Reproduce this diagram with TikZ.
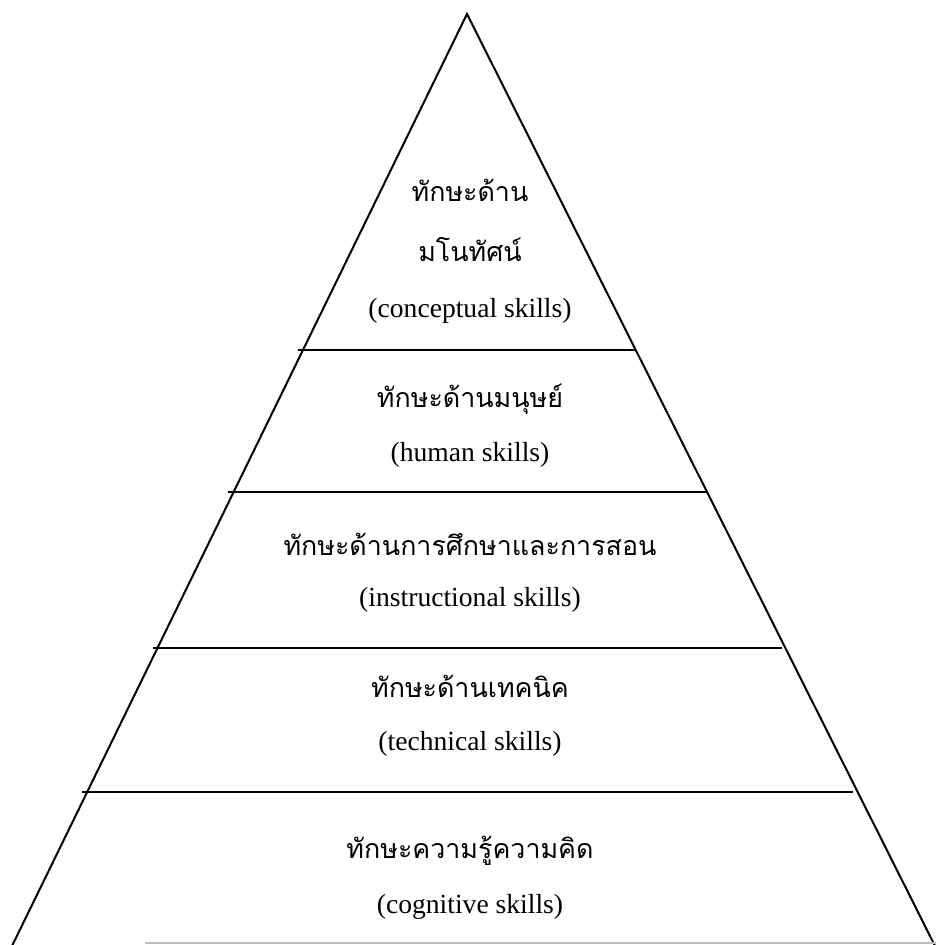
\documentclass[tikz,border=0pt]{standalone}
\usepackage{fontspec}
\setmainfont{Liberation Serif}
\newfontfamily\thaifont[Script=Thai]{Loma}
\usetikzlibrary{positioning}
\tikzset{
  thaitext/.style={font=\thaifont\fontsize{13.4}{15}\selectfont, inner sep=0pt},
  engtext/.style={font=\fontsize{13.8}{16}\selectfont, inner sep=0pt},
  tierline/.style={line width=1.1pt},
}
\begin{document}
\begin{tikzpicture}[x=0.5pt,y=-0.5pt]
\useasboundingbox (0,0) rectangle (936,945);
% Pyramid outline
\coordinate (apex) at (467,14);
\coordinate (baseL) at (12,946);
\coordinate (baseR) at (935,946);
\draw[line width=1pt] (baseL) -- (apex) -- (baseR);
% Tier dividers
\coordinate (t1L) at (298,350); \coordinate (t1R) at (636,350);
\coordinate (t2L) at (228,492); \coordinate (t2R) at (707,492);
\coordinate (t3L) at (153,648); \coordinate (t3R) at (782,648);
\coordinate (t4L) at (82,792);  \coordinate (t4R) at (853,792);
\draw[tierline] (t1L) -- (t1R);
\draw[tierline] (t2L) -- (t2R);
\draw[tierline] (t3L) -- (t3R);
\draw[tierline] (t4L) -- (t4R);
% faint bottom edge
\coordinate (edgeL) at (145,943); \coordinate (edgeR) at (936,943);
\draw[gray!50, line width=0.8pt] (edgeL) -- (edgeR);
% Tier labels
\node[thaitext] (concTh1) at (470,190) {ทักษะด้าน};
\node[thaitext] (concTh2) at (470,250) {มโนทัศน์};
\node[engtext]  (concEn)  at (470,311) {(conceptual skills)};
\node[thaitext] (humTh)   at (470,399) {ทักษะด้านมนุษย์};
\node[engtext]  (humEn)   at (470,455) {(human skills)};
\node[thaitext] (instTh)  at (470,544) {ทักษะด้านการศึกษาและการสอน};
\node[engtext]  (instEn)  at (470,600) {(instructional skills)};
\node[thaitext] (techTh)  at (470,686) {ทักษะด้านเทคนิค};
\node[engtext]  (techEn)  at (470,744) {(technical skills)};
\node[thaitext] (cogTh)   at (470,851) {ทักษะความรู้ความคิด};
\node[engtext]  (cogEn)   at (470,907) {(cognitive skills)};
\end{tikzpicture}
\end{document}
